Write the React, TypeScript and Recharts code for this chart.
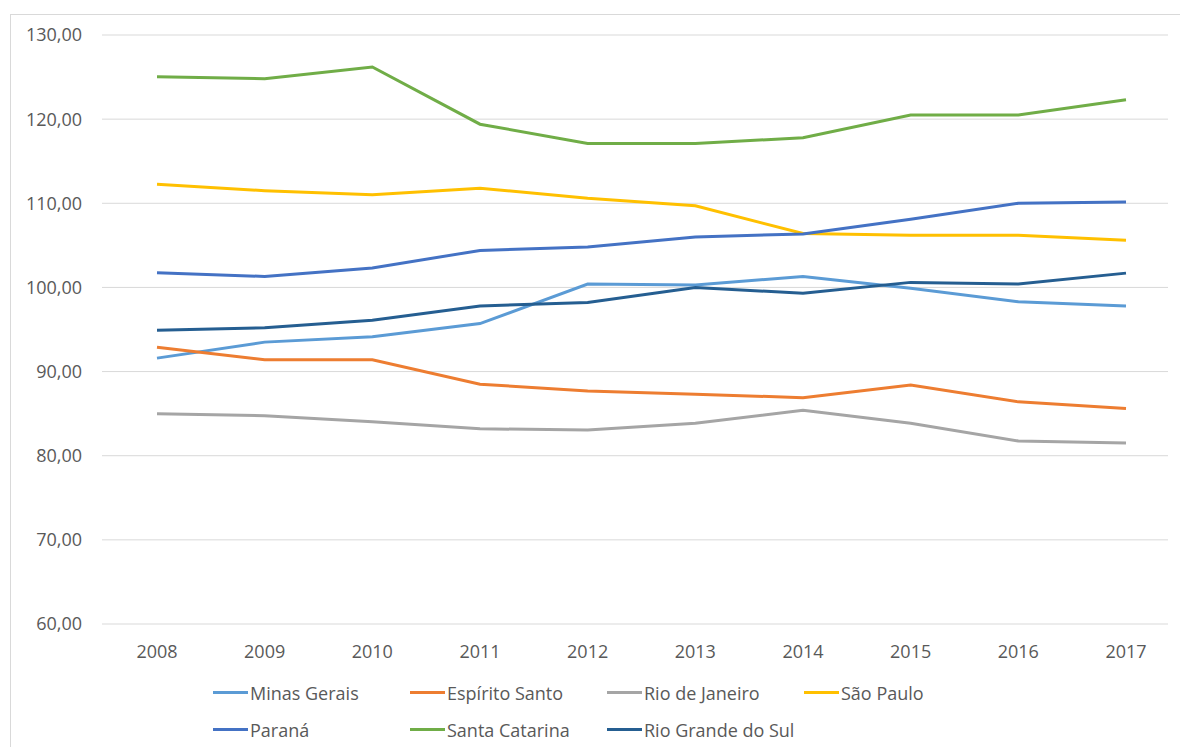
import { LineChart, Line, XAxis, YAxis, CartesianGrid, Legend } from 'recharts';

const years = ['2008', '2009', '2010', '2011', '2012', '2013', '2014', '2015', '2016', '2017'];

const minasGerais = [91.6, 93.5, 94.15, 95.7, 100.4, 100.3, 101.3, 99.9, 98.3, 97.8];
const espiritoSanto = [92.9, 91.4, 91.4, 88.5, 87.7, 87.3, 86.9, 88.4, 86.4, 85.6];
const rioDeJaneiro = [85.0, 84.75, 84.05, 83.2, 83.05, 83.85, 85.4, 83.85, 81.75, 81.5];
const saoPaulo = [112.25, 111.5, 111.0, 111.8, 110.6, 109.7, 106.4, 106.2, 106.2, 105.6];
const parana = [101.75, 101.3, 102.3, 104.4, 104.8, 106.0, 106.35, 108.1, 110.0, 110.15];
const santaCatarina = [125.05, 124.8, 126.2, 119.4, 117.1, 117.1, 117.8, 120.5, 120.5, 122.3];
const rioGrandeDoSul = [94.9, 95.2, 96.1, 97.8, 98.2, 100.0, 99.3, 100.6, 100.4, 101.7];

const yTicks = [60, 70, 80, 90, 100, 110, 120, 130];

const series = [
  { key: 'mg', name: 'Minas Gerais', values: minasGerais, color: '#5B9BD5' },
  { key: 'es', name: 'Espírito Santo', values: espiritoSanto, color: '#ED7D31' },
  { key: 'rj', name: 'Rio de Janeiro', values: rioDeJaneiro, color: '#A5A5A5' },
  { key: 'sp', name: 'São Paulo', values: saoPaulo, color: '#FFC000' },
  { key: 'pr', name: 'Paraná', values: parana, color: '#4472C4' },
  { key: 'sc', name: 'Santa Catarina', values: santaCatarina, color: '#70AD47' },
  { key: 'rs', name: 'Rio Grande do Sul', values: rioGrandeDoSul, color: '#255E91' },
];

const data = years.map((year, i) => {
  const row: Record<string, string | number> = { year };
  series.forEach((s) => {
    row[s.key] = s.values[i];
  });
  return row;
});

const FONT = '"Open Sans", Lato, sans-serif';
const TEXT = '#595959';

const renderLegend = () => (
  <div
    style={{
      height: 99,
      paddingTop: 26,
      paddingLeft: 191,
      boxSizing: 'border-box',
      display: 'flex',
      flexWrap: 'wrap',
      width: 1150,
      fontFamily: FONT,
      fontSize: 18,
      color: TEXT,
    }}
  >
    {series.map((s) => (
      <div key={s.key} style={{ width: 197, height: 37, display: 'flex', alignItems: 'center' }}>
        <span style={{ display: 'inline-block', width: 35, height: 3, background: s.color, marginRight: 2 }} />
        <span>{s.name}</span>
      </div>
    ))}
  </div>
);

const App = () => {
  return (
    <div style={{ position: 'relative', width: 1180, height: 739, overflow: 'hidden', background: '#fff' }}>
      <div
        style={{
          position: 'absolute',
          left: 2,
          top: 6,
          width: 1200,
          height: 760,
          border: '1px solid #d9d9d9',
          boxSizing: 'border-box',
        }}
      />
      <LineChart
        width={1180}
        height={739}
        data={data}
        margin={{ top: 27, right: 20, left: 14, bottom: 0 }}
        style={{ position: 'absolute', left: 0, top: 0 }}
      >
        <CartesianGrid vertical={false} stroke="#d9d9d9" strokeWidth={1} />
        <XAxis
          dataKey="year"
          axisLine={false}
          tickLine={false}
          height={24}
          tickMargin={15}
          padding={{ left: 55, right: 42 }}
          tick={{ fill: TEXT, fontSize: 18, fontFamily: FONT }}
        />
        <YAxis
          domain={[60, 130]}
          ticks={yTicks}
          width={80}
          axisLine={false}
          tickLine={false}
          tickMargin={14}
          tickFormatter={(v: number) => v.toFixed(2).replace('.', ',')}
          tick={{ fill: TEXT, fontSize: 18, fontFamily: FONT }}
        />
        <Legend verticalAlign="bottom" content={renderLegend} />
        {series.map((s) => (
          <Line
            key={s.key}
            dataKey={s.key}
            name={s.name}
            type="linear"
            stroke={s.color}
            strokeWidth={3}
            dot={false}
            isAnimationActive={false}
          />
        ))}
      </LineChart>
    </div>
  );
};

export default App;
